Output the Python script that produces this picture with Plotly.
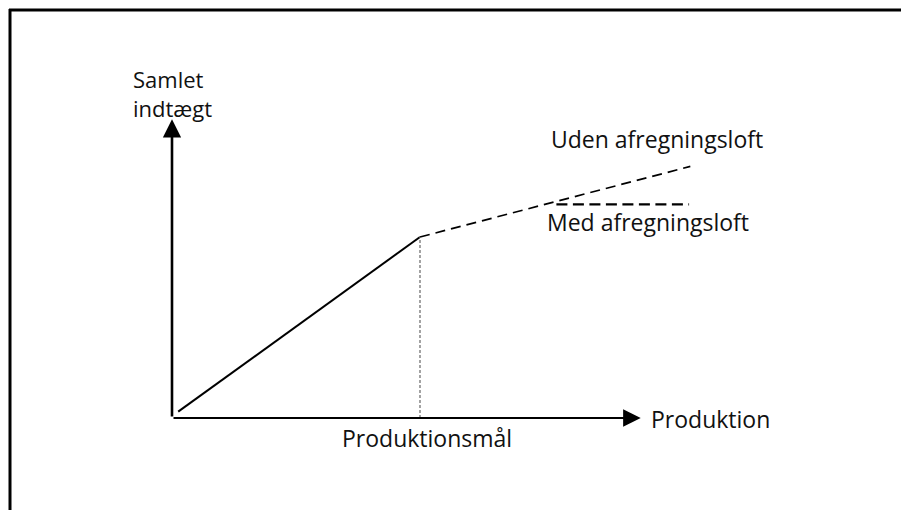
import plotly.graph_objects as go

# data (production units on x, revenue units on y)
prod_target = 10
line_x = [0.25, prod_target]
line_y = [0.35, 10]
uden_x = [prod_target, 20.9]
uden_y = [10, 13.9]
med_x = [15.5, 20.85]
med_y = [11.8, 11.8]
axis_x_end = 18.9
axis_y_end = 16.5

# layout geometry: plot area covers the whole figure, origin placed by the ranges
W, H = 909, 510
OX, OY = 164, 410          # origin in figure pixels
SX, SY = 24.8, 18.1        # pixels per unit
X_RANGE = [-OX / SX, (W - OX) / SX]
Y_RANGE = [(OY - H) / SY, OY / SY]

FONT = "Open Sans"
FS = 23
TXT = "#111111"

fig = go.Figure()

# revenue up to production target
fig.add_trace(go.Scatter(x=line_x, y=line_y, mode="lines",
                         line=dict(color="black", width=2), hoverinfo="skip"))
# without cap
fig.add_trace(go.Scatter(x=uden_x, y=uden_y, mode="lines",
                         line=dict(color="black", width=1.7, dash="10px,6px"), hoverinfo="skip"))
# with cap
fig.add_trace(go.Scatter(x=med_x, y=med_y, mode="lines",
                         line=dict(color="black", width=2.2, dash="11px,5.5px"), hoverinfo="skip"))
# production target guide
fig.add_trace(go.Scatter(x=[prod_target, prod_target], y=[0, line_y[1]], mode="lines",
                         line=dict(color="#666666", width=1.2, dash="3px,2px"), hoverinfo="skip"))

# axes with arrows
fig.add_annotation(x=0, y=axis_y_end, ax=0, ay=0, xref="x", yref="y", axref="x", ayref="y",
                   showarrow=True, arrowhead=2, arrowsize=1.4, arrowwidth=2.6, arrowcolor="black", text="")
fig.add_annotation(x=axis_x_end, y=0, ax=0, ay=0, xref="x", yref="y", axref="x", ayref="y",
                   showarrow=True, arrowhead=2, arrowsize=1.6, arrowwidth=2.2, arrowcolor="black", text="")

labels = [
    ("Samlet<br>indtægt", -1.65, 17.95, "left", 22),
    ("Uden afregningsloft", 15.22, 15.4, "left", FS),
    ("Med afregningsloft", 15.02, 10.85, "left", FS),
    ("Produktion", 19.22, -0.05, "left", FS),
    ("Produktionsmål", 10.3, -1.1, "center", FS),
]
for text, x, y, xa, fs in labels:
    fig.add_annotation(x=x, y=y, xref="x", yref="y", text=text, showarrow=False,
                       xanchor=xa, yanchor="middle", align="left",
                       font=dict(family=FONT, size=fs, color=TXT))

# outer frame (top and left edges visible)
fig.add_shape(type="line", xref="paper", yref="paper",
              x0=1 / W, x1=1, y0=1 - 2 / H, y1=1 - 2 / H,
              line=dict(color="black", width=3))
fig.add_shape(type="line", xref="paper", yref="paper",
              x0=2 / W, x1=2 / W, y0=0, y1=1 - 1 / H,
              line=dict(color="black", width=3))

fig.update_layout(
    width=W, height=H,
    margin=dict(l=0, r=0, t=0, b=0, pad=0),
    paper_bgcolor="white", plot_bgcolor="white",
    xaxis=dict(range=X_RANGE, visible=False, fixedrange=True),
    yaxis=dict(range=Y_RANGE, visible=False, fixedrange=True),
    showlegend=False,
)

fig.write_html("out.html")
